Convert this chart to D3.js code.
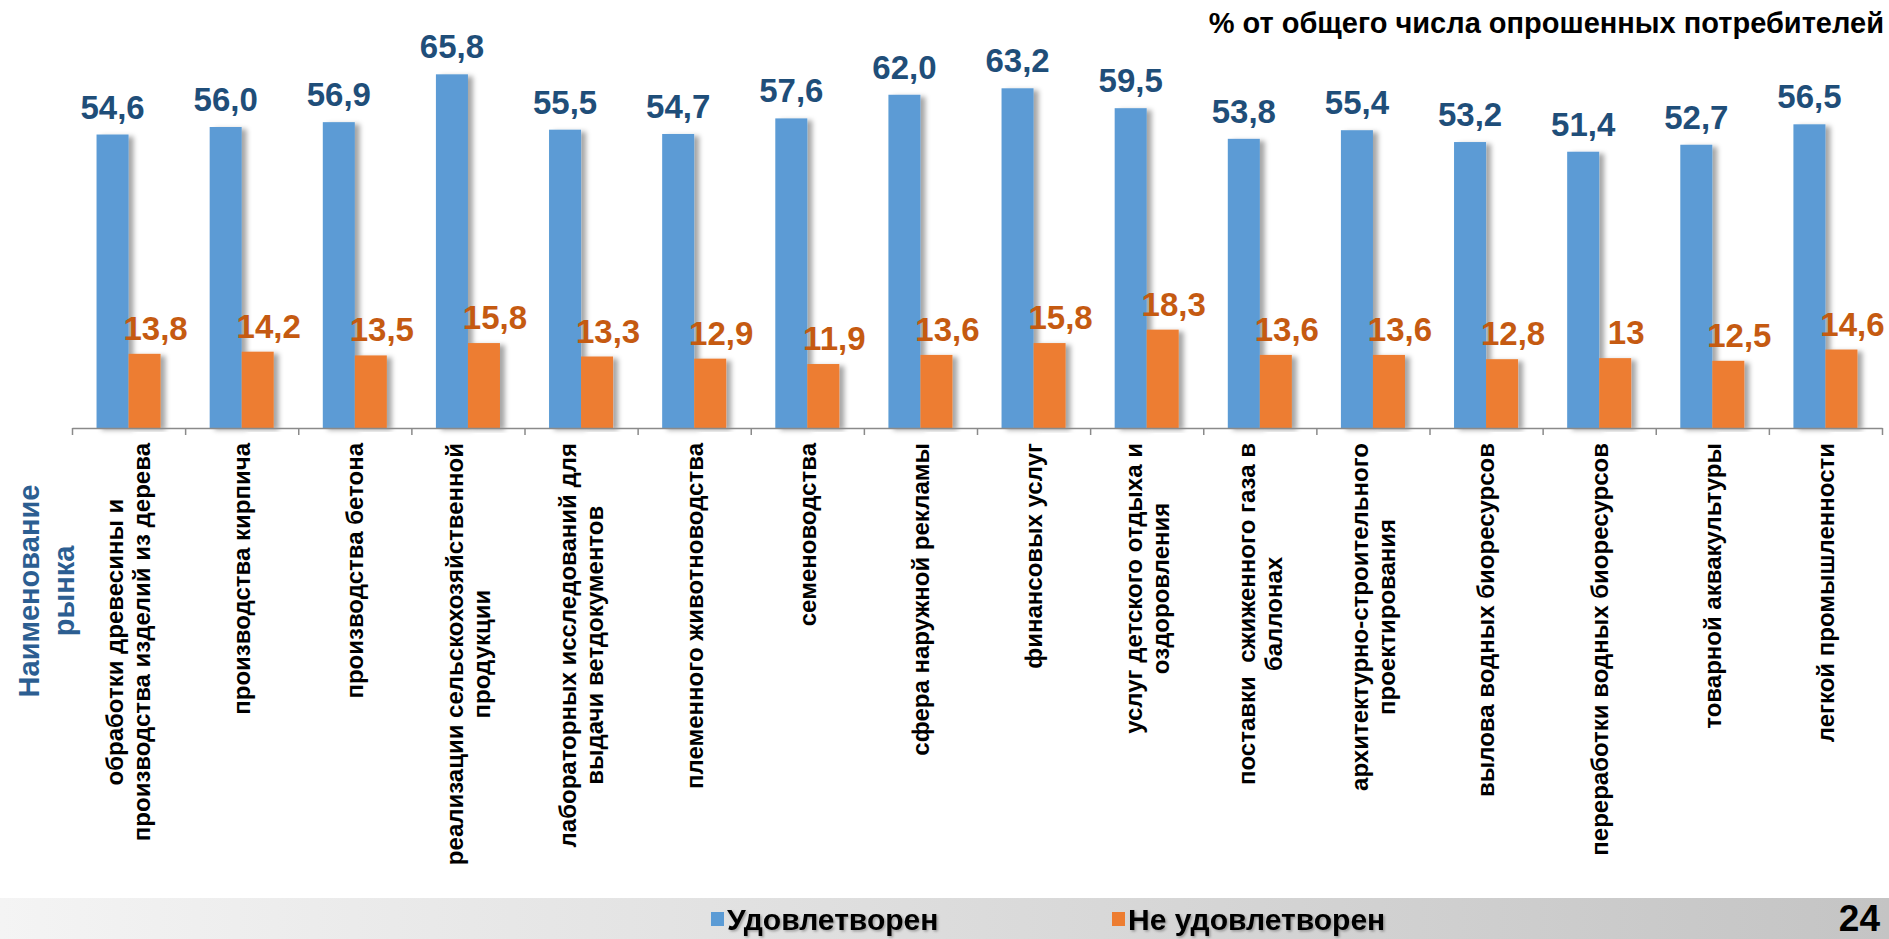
<!DOCTYPE html>
<html>
<head>
<meta charset="utf-8">
<script src="https://cdn.jsdelivr.net/npm/d3@7"></script>
<style>
  html, body { margin: 0; padding: 0; background: #fff; }
  svg { display: block; }
  text { font-family: "Liberation Sans", Arial, sans-serif; font-weight: bold; }
</style>
</head>
<body>
<div id="wrapper"></div>
<script>
'use strict';

// data
const categories = [
  ['обработки древесины и', 'производства изделий из дерева'],
  ['производства кирпича'],
  ['производства бетона'],
  ['реализации сельскохозяйственной', 'продукции'],
  ['лабораторных исследований для', 'выдачи ветдокументов'],
  ['племенного животноводства'],
  ['семеноводства'],
  ['сфера наружной рекламы'],
  ['финансовых услуг'],
  ['услуг детского отдыха и', 'оздоровления'],
  ['поставки  сжиженного газа в', 'баллонах'],
  ['архитектурно-строительного', 'проектирования'],
  ['вылова водных биоресурсов'],
  ['переработки водных биоресурсов'],
  ['товарной аквакультуры'],
  ['легкой промышленности'],
];
const satisfied = [54.6, 56.0, 56.9, 65.8, 55.5, 54.7, 57.6, 62.0, 63.2, 59.5, 53.8, 55.4, 53.2, 51.4, 52.7, 56.5];
const notSatisfied = [13.8, 14.2, 13.5, 15.8, 13.3, 12.9, 11.9, 13.6, 15.8, 18.3, 13.6, 13.6, 12.8, 13, 12.5, 14.6];
const seriesNames = ['Удовлетворен', 'Не удовлетворен'];
const yDomain = [0, 70];
const axisTitle = ['Наименование', 'рынка'];
const chartTitle = '% от общего числа опрошенных потребителей';
const pageNumber = '24';

function drawChart () {
  const dimensions = {
    width: 1889,
    height: 939,
    plotLeft: 72,
    plotRight: 1882,
    plotBottom: 428,
    plotTop: 51.75,
  };

  const colors = {
    blue: '#5B9BD5',
    orange: '#ED7D31',
    blueText: '#1F4E79',
    orangeText: '#C55A11',
    axisTitle: '#2C5E91',
    axis: '#8A8A8A',
  };

  const wrapper = d3.select('#wrapper')
    .append('svg')
    .attr('width', dimensions.width)
    .attr('height', dimensions.height);

  const defs = wrapper.append('defs');
  defs.append('filter')
    .attr('id', 'barShadow')
    .attr('x', '-20%').attr('y', '-5%')
    .attr('width', '160%').attr('height', '110%')
    .append('feDropShadow')
    .attr('dx', 5).attr('dy', 2)
    .attr('stdDeviation', 2.5)
    .attr('flood-color', '#000')
    .attr('flood-opacity', 0.35);

  defs.append('filter')
    .attr('id', 'textShadow')
    .append('feDropShadow')
    .attr('dx', 1.5).attr('dy', 1.5)
    .attr('stdDeviation', 0.8)
    .attr('flood-color', '#000')
    .attr('flood-opacity', 0.3);

  const grad = defs.append('linearGradient')
    .attr('id', 'footerGrad')
    .attr('x1', '0%').attr('x2', '100%')
    .attr('y1', '0%').attr('y2', '0%');
  grad.append('stop').attr('offset', '0%').attr('stop-color', '#F4F4F4');
  grad.append('stop').attr('offset', '100%').attr('stop-color', '#C4C4C4');

  // scales
  const idx = d3.range(categories.length);
  const xScale = d3.scaleBand()
    .domain(idx)
    .range([dimensions.plotLeft, dimensions.plotRight])
    .paddingInner(0.434)
    .paddingOuter(0.217);

  const xSub = d3.scaleBand()
    .domain([0, 1])
    .range([0, xScale.bandwidth()]);

  const yScale = d3.scaleLinear()
    .domain(yDomain)
    .range([dimensions.plotBottom, dimensions.plotTop]);

  // footer band with legend
  wrapper.append('rect')
    .attr('x', 0).attr('y', 898)
    .attr('width', dimensions.width).attr('height', dimensions.height - 898)
    .attr('fill', 'url(#footerGrad)');

  // bars
  const bars = wrapper.append('g');
  bars.selectAll('.blue')
    .data(satisfied)
    .join('rect')
    .attr('x', (d, i) => xScale(i) + xSub(0))
    .attr('y', d => yScale(d))
    .attr('width', xSub.bandwidth())
    .attr('height', d => yScale(0) - yScale(d))
    .attr('fill', colors.blue)
    .attr('filter', 'url(#barShadow)');

  bars.selectAll('.orange')
    .data(notSatisfied)
    .join('rect')
    .attr('x', (d, i) => xScale(i) + xSub(1))
    .attr('y', d => yScale(d))
    .attr('width', xSub.bandwidth())
    .attr('height', d => yScale(0) - yScale(d))
    .attr('fill', colors.orange)
    .attr('filter', 'url(#barShadow)');

  // axis with ticks at category boundaries
  const boundaryScale = d3.scaleLinear()
    .domain([0, categories.length])
    .range([dimensions.plotLeft, dimensions.plotRight]);

  const xAxis = wrapper.append('g')
    .attr('transform', `translate(0, ${dimensions.plotBottom})`)
    .call(d3.axisBottom(boundaryScale)
      .tickValues(d3.range(categories.length + 1))
      .tickSize(7)
      .tickSizeOuter(0)
      .tickFormat(''));
  xAxis.select('.domain').attr('stroke', colors.axis).attr('stroke-width', 1.5);
  xAxis.selectAll('.tick line').attr('stroke', colors.axis).attr('stroke-width', 1.5);

  // value labels
  wrapper.append('g').selectAll('text')
    .data(satisfied)
    .join('text')
    .attr('x', (d, i) => xScale(i) + xSub(0) + xSub.bandwidth() / 2)
    .attr('y', d => yScale(d) - 16)
    .attr('text-anchor', 'middle')
    .attr('font-size', 33)
    .attr('fill', colors.blueText)
    .text(d => d.toFixed(1).replace('.', ','));

  wrapper.append('g').selectAll('text')
    .data(notSatisfied)
    .join('text')
    .attr('x', (d, i) => xScale(i) + xSub(1) + xSub.bandwidth() / 2 + 11)
    .attr('y', d => yScale(d) - 14)
    .attr('text-anchor', 'middle')
    .attr('font-size', 33)
    .attr('fill', colors.orangeText)
    .text(d => String(d).replace('.', ','));

  // category labels, rotated, aligned to the axis
  const labelSize = 24;
  const labelLine = 27;
  const labels = wrapper.append('g')
    .selectAll('g')
    .data(categories)
    .join('g')
    .attr('transform', (d, i) => `translate(${xScale(i) + xScale.bandwidth() / 2}, 443) rotate(-90)`);

  labels.each(function (lines) {
    const g = d3.select(this);
    const texts = g.selectAll('text')
      .data(lines)
      .join('text')
      .attr('font-size', labelSize)
      .attr('fill', '#000')
      .attr('text-anchor', 'middle')
      .attr('y', (d, k) => (k - (lines.length - 1) / 2) * labelLine + labelSize * 0.35)
      .style('white-space', 'pre')
      .text(d => d);
    let maxLen = 0;
    texts.each(function () { maxLen = Math.max(maxLen, this.getComputedTextLength()); });
    texts.attr('x', -maxLen / 2);
  });

  // axis title
  const titleSize = 29;
  wrapper.append('g')
    .attr('transform', 'translate(46, 591) rotate(-90)')
    .selectAll('text')
    .data(axisTitle)
    .join('text')
    .attr('text-anchor', 'middle')
    .attr('font-size', titleSize)
    .attr('fill', colors.axisTitle)
    .attr('y', (d, k) => (k - 0.5) * 35 + titleSize * 0.35)
    .text(d => d);

  // chart title
  wrapper.append('text')
    .attr('x', 1884)
    .attr('y', 33)
    .attr('text-anchor', 'end')
    .attr('font-size', 29)
    .attr('fill', '#000')
    .text(chartTitle);

  // legend
  const legendItems = [
    { name: seriesNames[0], color: colors.blue, x: 711 },
    { name: seriesNames[1], color: colors.orange, x: 1112 },
  ];
  const legend = wrapper.append('g')
    .selectAll('g')
    .data(legendItems)
    .join('g')
    .attr('transform', d => `translate(${d.x}, 0)`);
  legend.append('rect')
    .attr('x', 0).attr('y', 912)
    .attr('width', 13).attr('height', 14)
    .attr('fill', d => d.color);
  legend.append('text')
    .attr('x', 16).attr('y', 930)
    .attr('font-size', 30)
    .attr('fill', '#000')
    .attr('filter', 'url(#textShadow)')
    .text(d => d.name);

  wrapper.append('text')
    .attr('x', 1880).attr('y', 931)
    .attr('text-anchor', 'end')
    .attr('font-size', 37)
    .attr('fill', '#000')
    .text(pageNumber);
}

drawChart();
</script>
</body>
</html>
